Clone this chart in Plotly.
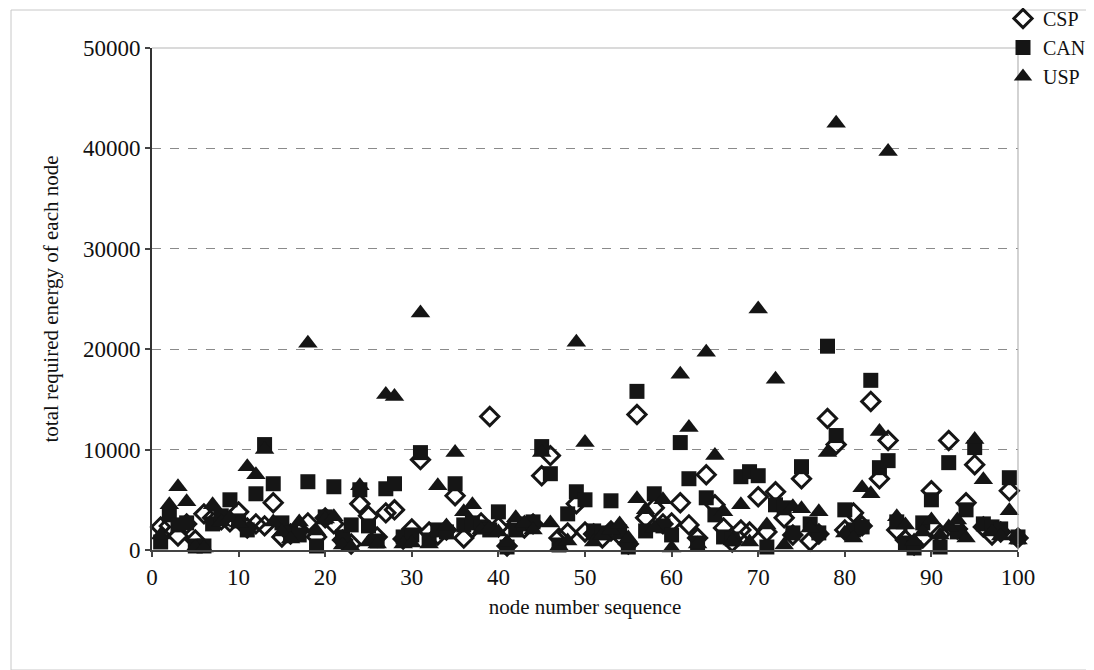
import plotly.graph_objects as go

nodes = list(range(1, 101))

csp = [2300, 2400, 1400, 2600, 1000, 3600, 3200, 3000, 2800, 3800,
       2200, 2600, 2400, 4700, 1300, 1600, 2000, 2700, 1300, 3200,
       2600, 1000, 600, 4600, 3400, 1300, 3700, 4000, 1100, 2100,
       9000, 1800, 1500, 2000, 5400, 1200, 2200, 2700, 13300, 2300,
       400, 2500, 2200, 2600, 7400, 9400, 1200, 1700, 4600, 1800,
       1600, 1200, 1900, 1500, 600, 13500, 3200, 4200, 2600, 2700,
       4700, 2500, 1200, 7500, 4500, 2200, 800, 2000, 1800, 5300,
       1800, 5800, 3200, 1500, 7100, 900, 1600, 13100, 10500, 2000,
       3700, 2400, 14800, 7100, 10900, 2000, 1000, 500, 1200, 5900,
       1600, 10900, 2100, 4700, 8500, 2300, 1500, 1800, 5900, 1200]

can = [800, 3500, 2500, 2700, 400, 400, 2600, 3400, 5000, 2900,
       2000, 5600, 10500, 6600, 2700, 1700, 1500, 6800, 400, 3300,
       6300, 1300, 2500, 6000, 2400, 900, 6100, 6600, 1300, 1500,
       9700, 1000, 2000, 1800, 6600, 2500, 2700, 2300, 2000, 3800,
       300, 2000, 2600, 2800, 10300, 7600, 500, 3600, 5800, 5000,
       1900, 1700, 4900, 1800, 300, 15800, 1900, 5600, 2400, 1500,
       10700, 7100, 700, 5200, 3500, 1300, 1100, 7300, 7800, 7400,
       300, 4500, 4200, 1700, 8300, 2600, 1700, 20300, 11400, 4000,
       2000, 2300, 16900, 8200, 8900, 2800, 700, 200, 2700, 5000,
       300, 8700, 1800, 4000, 10200, 2600, 2300, 2100, 7200, 1300]

usp = [1500, 4500, 6300, 4800, 300, 200, 4500, 2800, 3200, 2700,
       8300, 7500, 10000, 2800, 1800, 1100, 2800, 20600, 1900, 3100,
       3300, 500, 300, 6400, 800, 600, 15500, 15300, 600, 700,
       23600, 600, 6400, 2400, 9700, 3800, 4500, 2000, 2200, 1800,
       800, 3200, 2700, 2000, 9700, 2700, 400, 900, 20700, 10700,
       800, 1500, 2000, 2600, 1200, 5100, 4000, 2200, 5000, 200,
       17500, 12200, 600, 19700, 9400, 3800, 900, 4500, 800, 24000,
       2500, 17000, 500, 4300, 4100, 2200, 3800, 9700, 42500, 1700,
       1200, 6200, 5600, 11800, 39700, 3300, 2500, 900, 1800, 3000,
       1500, 2300, 3000, 1200, 11000, 7000, 1800, 1400, 3900, 1000]

series_names = ["CSP", "CAN", "USP"]
x_ticks = [0, 10, 20, 30, 40, 50, 60, 70, 80, 90, 100]
y_ticks = [0, 10000, 20000, 30000, 40000, 50000]

INK = "#151515"
FONT = "Liberation Serif, Times New Roman, serif"

fig = go.Figure()
fig.add_trace(go.Scatter(
    x=nodes, y=csp, mode="markers", name=series_names[0], cliponaxis=False,
    marker=dict(symbol="diamond-open", size=14, color=INK, line=dict(width=3, color=INK))))
fig.add_trace(go.Scatter(
    x=nodes, y=can, mode="markers", name=series_names[1], cliponaxis=False,
    marker=dict(symbol="square", size=15, color=INK, line=dict(width=0))))
fig.add_trace(go.Scatter(
    x=nodes, y=usp, mode="markers", name=series_names[2], cliponaxis=False,
    marker=dict(symbol="triangle-up", size=17, color=INK, line=dict(width=0))))

L, R, T, B = 144, 84, 40, 128
W, H = 1094, 670
pw, ph = W - L - R, H - T - B

def px(xp):
    return (xp - L) / pw

def py(yp):
    return (H - B - yp) / ph

fig.update_layout(
    width=W, height=H,
    margin=dict(l=L, r=R, t=T, b=B, pad=0, autoexpand=False),
    paper_bgcolor="white", plot_bgcolor="white",
    font=dict(family=FONT, size=23, color="#111"),
    showlegend=True,
    legend=dict(x=px(995), y=py(-9), xanchor="left", yanchor="top",
                font=dict(family=FONT, size=20, color="#111"),
                bgcolor="rgba(0,0,0,0)", borderwidth=0, tracegroupgap=0,
                itemwidth=30),
    xaxis=dict(range=[0, 100], tickvals=x_ticks, ticktext=[str(v) for v in x_ticks],
               showgrid=False, zeroline=False, showline=True, linecolor="#444", linewidth=2,
               ticks="outside", ticklen=5, tickwidth=1.5, tickcolor="#444",
               tickfont=dict(family=FONT, size=23, color="#111"),
               title=dict(text="node number sequence", font=dict(family=FONT, size=21, color="#111"), standoff=11)),
    yaxis=dict(range=[0, 50000], tickvals=y_ticks, ticktext=[str(v) for v in y_ticks],
               showgrid=True, gridcolor="#8a8a8a", griddash="dash", gridwidth=1,
               zeroline=False, showline=True, linecolor="#333", linewidth=2,
               ticks="outside", ticklen=5, tickwidth=1.5, tickcolor="#444",
               tickfont=dict(family=FONT, size=23, color="#111"),
               title=dict(text="total required energy of each node", font=dict(family=FONT, size=21, color="#111"), standoff=19)),
)

# light plot-area border on top and right
fig.add_shape(type="line", xref="paper", yref="paper", x0=0, x1=1, y0=1, y1=1,
              line=dict(color="#b5b5b5", width=1.2))
fig.add_shape(type="line", xref="paper", yref="paper", x0=1, x1=1, y0=0, y1=1,
              line=dict(color="#b5b5b5", width=1.2))
# outer chart frame
fig.add_shape(type="rect", xref="paper", yref="paper",
              x0=px(3), x1=px(1091), y0=py(2), y1=py(662),
              line=dict(color="#c8c8c8", width=1))

fig.write_html("out.html")
